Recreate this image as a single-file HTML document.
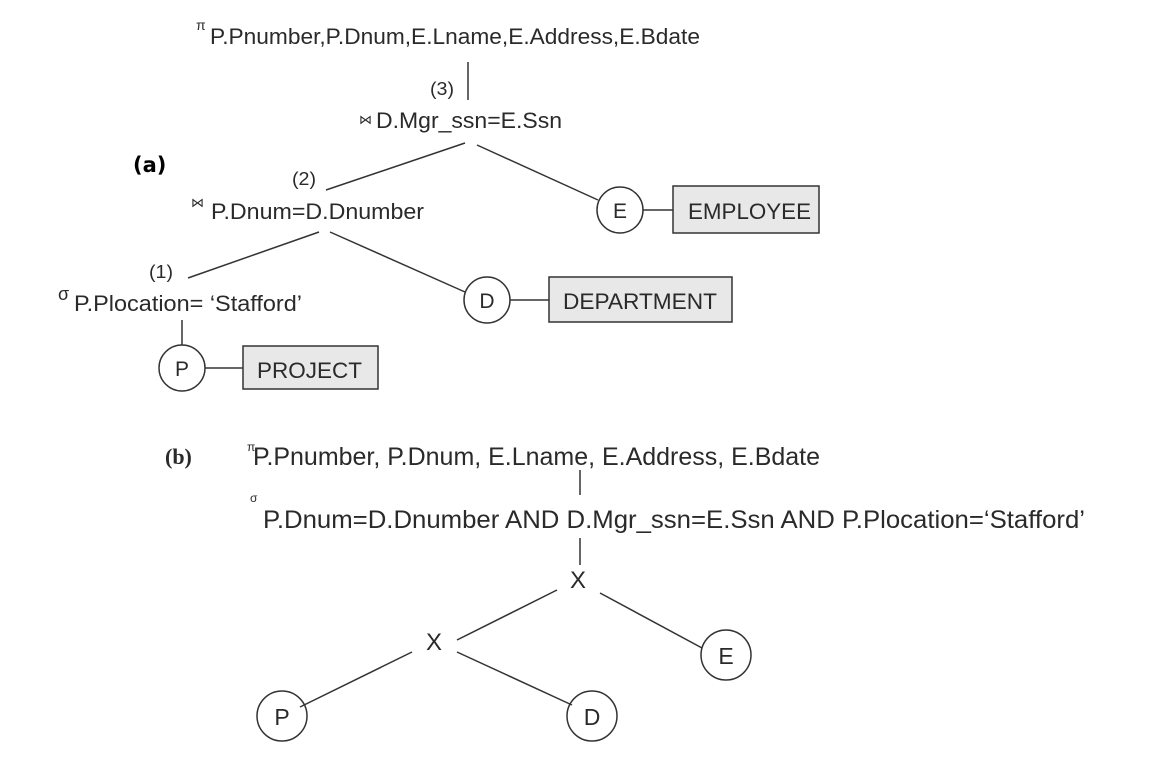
<!DOCTYPE html>
<html><head><meta charset="utf-8"><style>
html,body{margin:0;padding:0;background:#fff;}
svg{display:block;}
text{font-family:"Liberation Sans",sans-serif;fill:#2a2a2a;}
</style></head><body>
<svg width="1151" height="760" viewBox="0 0 1151 760" xmlns="http://www.w3.org/2000/svg">
<g stroke="#333" stroke-width="1.5" fill="none">
<line x1="468" y1="62" x2="468" y2="100"/>
<line x1="465" y1="143" x2="326" y2="190"/>
<line x1="477" y1="145" x2="598" y2="200"/>
<line x1="319" y1="232" x2="188" y2="278"/>
<line x1="330" y1="232" x2="465" y2="292"/>
<line x1="182" y1="320" x2="182" y2="345"/>
<circle cx="620" cy="210" r="23"/>
<circle cx="487" cy="300" r="23"/>
<circle cx="182" cy="368" r="23"/>
<line x1="643" y1="210" x2="673" y2="210"/>
<line x1="510" y1="300" x2="549" y2="300"/>
<line x1="205" y1="368" x2="243" y2="368"/>
<rect x="673" y="186" width="146" height="47" fill="#e8e8e8"/>
<rect x="549" y="277" width="183" height="45" fill="#e8e8e8"/>
<rect x="243" y="346" width="135" height="43" fill="#e8e8e8"/>
<line x1="580" y1="470" x2="580" y2="495"/>
<line x1="580" y1="538" x2="580" y2="565"/>
<line x1="557" y1="590" x2="457" y2="640"/>
<line x1="600" y1="593" x2="702" y2="648"/>
<line x1="412" y1="652" x2="300" y2="707"/>
<line x1="457" y1="652" x2="572" y2="705"/>
<circle cx="726" cy="655" r="25"/>
<circle cx="282" cy="716" r="25"/>
<circle cx="592" cy="716" r="25"/>
</g>
<text x="196" y="30" font-size="14">π</text>
<text x="210" y="44" font-size="22" textLength="490" lengthAdjust="spacingAndGlyphs">P.Pnumber,P.Dnum,E.Lname,E.Address,E.Bdate</text>
<text x="430" y="95" font-size="18" textLength="24" lengthAdjust="spacingAndGlyphs">(3)</text>
<text x="359" y="124" font-size="13">⋈</text>
<text x="376" y="128" font-size="22" textLength="186" lengthAdjust="spacingAndGlyphs">D.Mgr_ssn=E.Ssn</text>
<text x="133" y="172" font-size="21" font-weight="bold" style="font-family:'DejaVu Sans',sans-serif;fill:#000">(a)</text>
<text x="292" y="185" font-size="18" textLength="24" lengthAdjust="spacingAndGlyphs">(2)</text>
<text x="191" y="207" font-size="13">⋈</text>
<text x="211" y="219" font-size="22" textLength="213" lengthAdjust="spacingAndGlyphs">P.Dnum=D.Dnumber</text>
<text x="149" y="278" font-size="18" textLength="24" lengthAdjust="spacingAndGlyphs">(1)</text>
<text x="58" y="300" font-size="18">σ</text>
<text x="74" y="311" font-size="22" textLength="228" lengthAdjust="spacingAndGlyphs">P.Plocation= ‘Stafford’</text>
<text x="620" y="218" font-size="21" text-anchor="middle">E</text>
<text x="487" y="308" font-size="21" text-anchor="middle">D</text>
<text x="182" y="376" font-size="21" text-anchor="middle">P</text>
<text x="688" y="219" font-size="22" textLength="123" lengthAdjust="spacingAndGlyphs">EMPLOYEE</text>
<text x="563" y="309" font-size="22" textLength="154" lengthAdjust="spacingAndGlyphs">DEPARTMENT</text>
<text x="257" y="378" font-size="22" textLength="105" lengthAdjust="spacingAndGlyphs">PROJECT</text>
<text x="165" y="464" font-size="22" font-weight="bold" style="font-family:'Liberation Serif',serif">(b)</text>
<text x="247" y="451" font-size="12">π</text>
<text x="253" y="465" font-size="25" textLength="567" lengthAdjust="spacingAndGlyphs">P.Pnumber, P.Dnum, E.Lname, E.Address, E.Bdate</text>
<text x="250" y="502" font-size="12">σ</text>
<text x="263" y="528" font-size="25" textLength="822" lengthAdjust="spacingAndGlyphs">P.Dnum=D.Dnumber AND D.Mgr_ssn=E.Ssn AND P.Plocation=‘Stafford’</text>
<text x="578" y="588" font-size="24" text-anchor="middle">X</text>
<text x="434" y="650" font-size="24" text-anchor="middle">X</text>
<text x="726" y="664" font-size="23" text-anchor="middle">E</text>
<text x="282" y="725" font-size="23" text-anchor="middle">P</text>
<text x="592" y="725" font-size="23" text-anchor="middle">D</text>
</svg>
</body></html>
